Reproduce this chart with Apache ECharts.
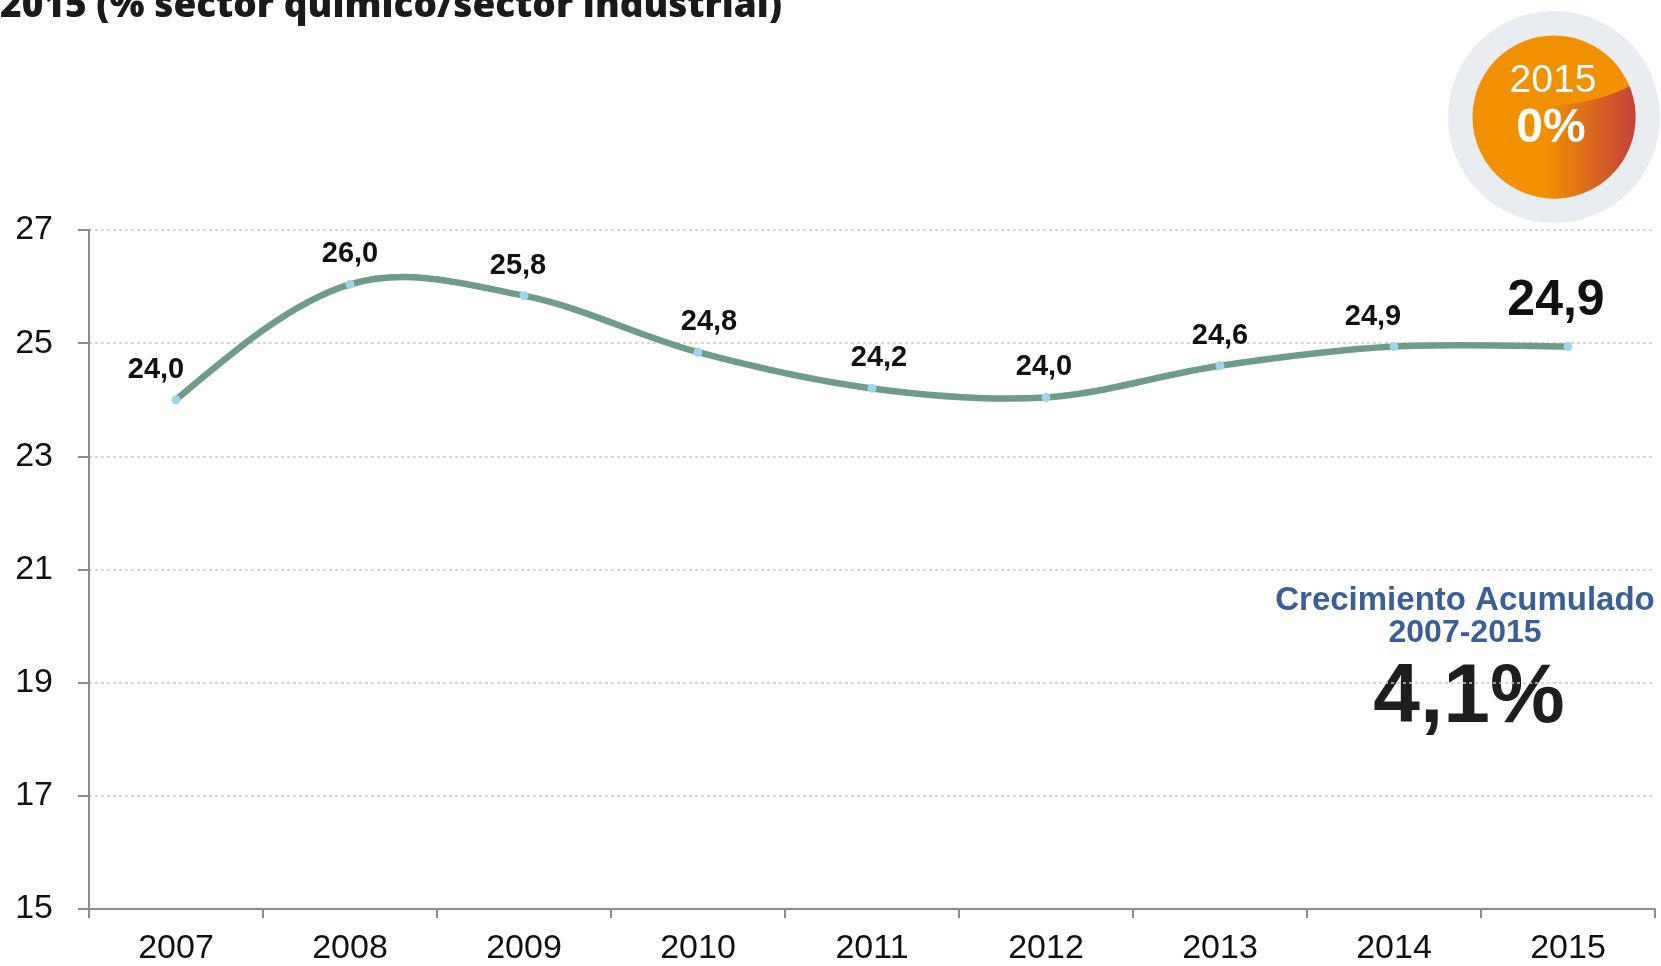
<!DOCTYPE html>
<html><head><meta charset="utf-8">
<script src="https://cdn.jsdelivr.net/npm/echarts@6/dist/echarts.min.js"></script>
<style>html,body{margin:0;padding:0;background:#fff}#c{width:1661px;height:966px}</style>
</head><body><div id="c"></div>
<script>
const years = ['2007','2008','2009','2010','2011','2012','2013','2014','2015'];
const values = [24.0, 26.04, 25.84, 24.84, 24.2, 24.04, 24.6, 24.94, 24.94];
const yTicks = [15, 17, 19, 21, 23, 25, 27];
const titleText = '2015 (% sector químico/sector industrial)';
const badgeYear = '2015';
const badgeValue = '0%';
const growthLabel = 'Crecimiento Acumulado';
const growthPeriod = '2007-2015';
const growthValue = '4,1%';

// label layout (horizontal offsets, px)
const labelDx = [-20, 0, -6, 11, 7, -2, 0, -21, -12];

const fmt = v => (Math.floor(v * 10 + 1e-6) / 10).toFixed(1).replace('.', ',');
const last = values.length - 1;
const seriesData = values.map((v, i) => ({
  value: v,
  label: i === last
    ? { fontSize: 50, offset: [labelDx[i], 0], distance: 16 }
    : { offset: [labelDx[i], 0] }
}));

// badge decoration geometry
const BC = [1554, 117], BR = 81.5;
const wedge = [];
(function () {
  const p0 = [1545, 106], q = [1596, 104], p1 = [1630, 86];
  for (let t = 0; t <= 1.0001; t += 0.05) {
    const a = (1 - t) * (1 - t), b = 2 * t * (1 - t), c = t * t;
    wedge.push([a * p0[0] + b * q[0] + c * p1[0], a * p0[1] + b * q[1] + c * p1[1]]);
  }
  const a0 = Math.atan2(p1[1] - BC[1], p1[0] - BC[0]);
  const endY = BC[1] + Math.sqrt(BR * BR - (1545 - BC[0]) ** 2);
  const a1 = Math.atan2(endY - BC[1], 1545 - BC[0]);
  for (let k = 0; k <= 40; k++) {
    const ang = a0 + (a1 - a0) * k / 40;
    wedge.push([BC[0] + BR * Math.cos(ang), BC[1] + BR * Math.sin(ang)]);
  }
})();

// Catmull-Rom style smooth curve through the data, via the axis scales
function renderCurve(params, api) {
  const i = params.dataIndex;
  if (i >= last) return null;
  const P = j => { const k = Math.max(0, Math.min(last, j)); return api.coord([k, values[k]]); };
  const p0 = P(i - 1), p1 = P(i), p2 = P(i + 1), p3 = P(i + 2);
  const cp2 = [p2[0] - (p3[0] - p1[0]) / 6, p2[1] - (p3[1] - p1[1]) / 6];
  let cp1 = [p1[0] + (p2[0] - p0[0]) / 6, p1[1] + (p2[1] - p0[1]) / 6];
  if (i === 0) cp1 = [p1[0] + (cp2[0] - p1[0]) * 0.5, p1[1] + (cp2[1] - p1[1]) * 0.5];
  return {
    type: 'bezierCurve',
    shape: { x1: p1[0], y1: p1[1], x2: p2[0], y2: p2[1], cpx1: cp1[0], cpy1: cp1[1], cpx2: cp2[0], cpy2: cp2[1] },
    style: { stroke: '#6f9c86', lineWidth: 6.5, fill: null, lineCap: 'round' },
    silent: true
  };
}

const chart = echarts.init(document.getElementById('c'), null, {renderer: 'canvas'});
const F = '"Liberation Sans", Arial, sans-serif';
const grad = {
  type: 'linear', x: 1545, y: 0, x2: 1636, y2: 0, global: true,
  colorStops: [{ offset: 0, color: '#f29100' }, { offset: 1, color: '#c4403a' }]
};
chart.setOption({
  animation: false,
  grid: { left: 89, right: 6, top: 230, bottom: 56 },
  xAxis: {
    type: 'category', data: years, boundaryGap: true,
    axisLine: { lineStyle: { color: '#8c8c8c', width: 2 } },
    axisTick: { show: true, length: 9, lineStyle: { color: '#8c8c8c', width: 2 } },
    axisLabel: { color: '#111', fontSize: 34, fontFamily: F, margin: 23 }
  },
  yAxis: {
    type: 'value', min: yTicks[0], max: yTicks[yTicks.length - 1], interval: 2,
    axisLine: { show: true, lineStyle: { color: '#8c8c8c', width: 2 } },
    axisTick: { show: true, length: 11, lineStyle: { color: '#8c8c8c', width: 2 } },
    axisLabel: { color: '#111', fontSize: 34, fontFamily: F, margin: 36 },
    splitLine: { show: true, lineStyle: { color: '#c9c9c9', type: [3, 3], width: 1.5 } }
  },
  series: [{
    type: 'custom', data: values.map((v, i) => [i, v]),
    encode: { x: 0, y: 1 }, renderItem: renderCurve, z: 2
  }, {
    type: 'line', data: seriesData,
    lineStyle: { width: 0, opacity: 0 },
    symbol: 'circle', symbolSize: 9,
    itemStyle: { color: '#9fd4ec', borderWidth: 0 },
    label: {
      show: true, position: 'top', distance: 11,
      fontSize: 29, fontWeight: 'bold', fontFamily: F, color: '#111',
      formatter: p => fmt(p.value)
    },
    z: 3
  }],
  graphic: [
    { type: 'text', x: 0, y: -12, style: { text: titleText, font: '800 37px "Open Sans", sans-serif', fill: '#1a1a1a' } },
    { type: 'circle', shape: { cx: BC[0], cy: BC[1], r: 106 }, style: { fill: '#e9edf2' }, silent: true },
    { type: 'circle', shape: { cx: BC[0], cy: BC[1], r: BR }, style: { fill: '#f29100' }, silent: true },
    { type: 'polygon', shape: { points: wedge }, style: { fill: grad }, silent: true },
    { type: 'text', x: 1553, y: 81, style: { text: badgeYear, font: '39px "Liberation Sans", Arial', fill: '#fff', align: 'center', verticalAlign: 'middle' } },
    { type: 'text', x: 1551, y: 129, style: { text: badgeValue, font: 'bold 48px "Liberation Sans", Arial', fill: '#fff', align: 'center', verticalAlign: 'middle' } },
    { type: 'text', x: 1465, y: 601, style: { text: growthLabel, font: 'bold 33px "Liberation Sans", Arial', fill: '#3b5e98', align: 'center', verticalAlign: 'middle' } },
    { type: 'text', x: 1465, y: 633, style: { text: growthPeriod, font: 'bold 32px "Liberation Sans", Arial', fill: '#3b5e98', align: 'center', verticalAlign: 'middle' } },
    { type: 'text', x: 1469, y: 699, style: { text: growthValue, font: 'bold 84px "Liberation Sans", Arial', fill: '#1e1e1e', align: 'center', verticalAlign: 'middle' } }
  ]
});
</script></body></html>
